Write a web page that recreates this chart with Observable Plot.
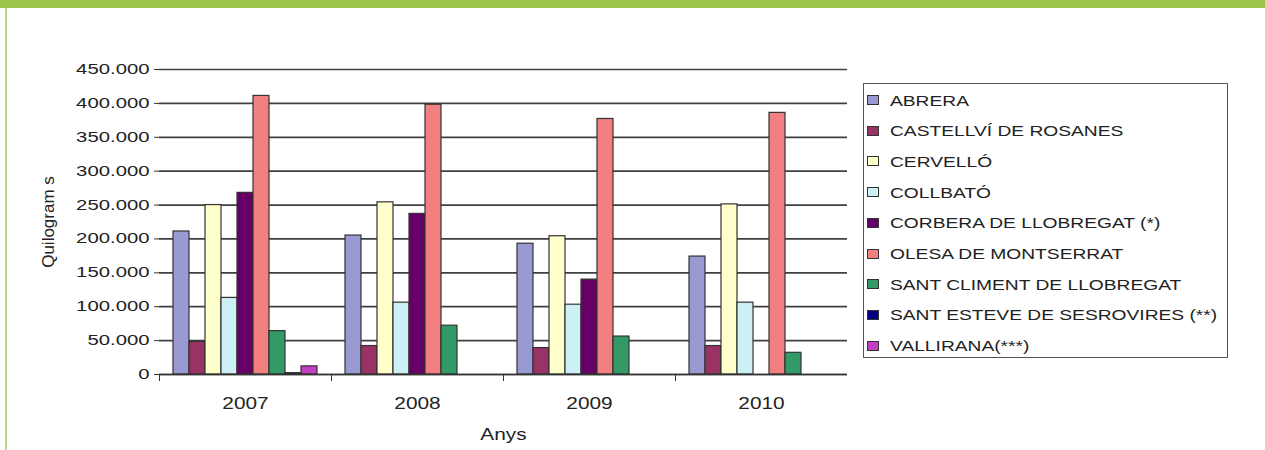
<!DOCTYPE html>
<html>
<head>
<meta charset="utf-8">
<script src="https://cdn.jsdelivr.net/npm/d3@7"></script>
<script src="https://cdn.jsdelivr.net/npm/@observablehq/plot@0.6"></script>
<style>
  html, body { margin: 0; padding: 0; background: #fff; overflow: hidden; }
  #wrap { position: relative; width: 1265px; height: 450px; background: #fff; font-family: "Liberation Sans", Arial, sans-serif; }
  #topband { position: absolute; left: 0; top: 0; width: 1265px; height: 8px; background: #9bc54d; }
  #leftline { position: absolute; left: 5px; top: 8px; width: 2px; height: 442px; background: #b9d88c; }
  #chart { position: absolute; left: 0; top: 0; }
  #legend { position: absolute; left: 863px; top: 83px; width: 363px; height: 273px; border: 1.5px solid #555; box-sizing: content-box; }
  .item { position: absolute; left: 0; height: 20px; display: flex; align-items: center; }
  .sw { position: absolute; left: 3px; width: 10px; height: 8px; border: 1px solid #333; }
  .lab { position: absolute; left: 26px; white-space: nowrap; font-size: 15px; color: #222; transform: scaleX(1.28); transform-origin: left center; }
</style>
</head>
<body>
<div id="wrap">
  <div id="topband"></div>
  <div id="leftline"></div>
  <div id="chart"></div>
  <div id="legend"></div>
</div>
<script>
const years = ["2007", "2008", "2009", "2010"];
const municipalities = [
  "ABRERA",
  "CASTELLVÍ DE ROSANES",
  "CERVELLÓ",
  "COLLBATÓ",
  "CORBERA DE LLOBREGAT (*)",
  "OLESA DE MONTSERRAT",
  "SANT CLIMENT DE LLOBREGAT",
  "SANT ESTEVE DE SESROVIRES (**)",
  "VALLIRANA(***)"
];
const colors = ["#9a9ad2", "#993366", "#ffffcc", "#ccf0f5", "#660066", "#f28080", "#339966", "#000080", "#c040c0"];
const v2007 = [211000, 48000, 250000, 113000, 268000, 411000, 64000, 2000, 12000];
const v2008 = [205000, 42000, 254000, 106000, 237000, 398000, 72000, null, null];
const v2009 = [193000, 39000, 204000, 103000, 140000, 377000, 56000, null, null];
const v2010 = [174000, 42000, 251000, 106000, null, 386000, 32000, null, null];
const yTicks = [0, 50000, 100000, 150000, 200000, 250000, 300000, 350000, 400000, 450000];
const xLabel = "Anys";
const yLabel = "Quilogram s";

const series = [v2007, v2008, v2009, v2010];
const data = [];
years.forEach((yr, i) => municipalities.forEach((m, j) => {
  const v = series[i][j];
  if (v != null) data.push({year: yr, muni: m, value: v});
}));

const fmt = d => d === 0 ? "0" : d3.format(",.0f")(d).replace(/,/g, ".");

const chart = Plot.plot({
  width: 860,
  height: 450,
  marginLeft: 158,
  marginRight: 12,
  marginTop: 69,
  marginBottom: 76,
  style: {fontFamily: "'Liberation Sans', Arial, sans-serif", color: "#222", background: "transparent"},
  fx: {domain: years, padding: 0},
  x: {domain: municipalities, paddingInner: 0, paddingOuter: 0.75, axis: null},
  y: {domain: [0, 450000]},
  color: {domain: municipalities, range: colors},
  marks: [
    Plot.gridY(yTicks, {stroke: "#404040", strokeOpacity: 1, strokeWidth: 1.7}),
    Plot.barY(data, {fx: "year", x: "muni", y: "value", fill: "muni", stroke: "#333", strokeWidth: 1.2}),
    Plot.ruleY([0], {stroke: "#333", strokeWidth: 1.7}),
    Plot.frame({anchor: "left", insetTop: 305, insetBottom: -6, stroke: "#333"}),
    Plot.axisY({ticks: yTicks, tickFormat: fmt, tickSize: 5, tickPadding: 5, fontSize: 14, label: null, line: true, stroke: "#333"}),
    Plot.axisY({ticks: [], tickSize: 0, label: yLabel, labelAnchor: "center", labelOffset: 118, labelArrow: "none", fontSize: 17, dx: 10}),
    Plot.axisY({anchor: "right", ticks: [], tickSize: 0, label: null, line: true, stroke: "#333"}),
    Plot.axisFx({anchor: "bottom", tickSize: 0, tickPadding: 23, fontSize: 16, label: xLabel, labelAnchor: "center", labelOffset: 65, labelArrow: "none"})
  ]
});
document.getElementById("chart").append(chart);

// horizontally stretched lettering, as in the original picture
chart.querySelectorAll("text").forEach(t => {
  const s = t.textContent.trim();
  let f = 1;
  if (/^\d{4}$/.test(s) || s === xLabel) f = 1.3;
  else if (/^[\d.]+$/.test(s)) f = 1.45;
  if (f !== 1) {
    const L = t.getComputedTextLength();
    t.setAttribute("textLength", (L * f).toFixed(1));
    t.setAttribute("lengthAdjust", "spacingAndGlyphs");
  }
});

const legend = document.getElementById("legend");
municipalities.forEach((m, i) => {
  const it = document.createElement("div");
  it.className = "item";
  it.style.top = (6 + i * 30.7) + "px";
  const sw = document.createElement("div");
  sw.className = "sw";
  sw.style.background = colors[i];
  const lab = document.createElement("span");
  lab.className = "lab";
  lab.textContent = m;
  it.append(sw, lab);
  legend.append(it);
});
</script>
</body>
</html>
